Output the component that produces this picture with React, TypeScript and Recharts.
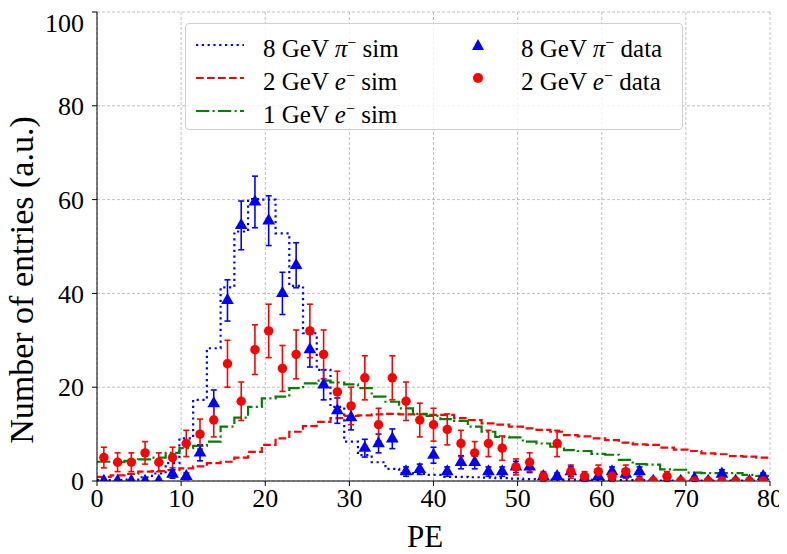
import React from "react";
import {
  ComposedChart,
  Line,
  Scatter,
  ErrorBar,
  XAxis,
  YAxis,
  ZAxis,
  CartesianGrid,
} from "recharts";

const FONT = '"Liberation Serif", "Times New Roman", serif';

// histogram binning: 49 bins over 0..80 PE
const X_MAX = 80;
const N_BINS = 49;
const BIN_W = X_MAX / N_BINS;

const xTicks = [0, 10, 20, 30, 40, 50, 60, 70, 80];
const yTicks = [0, 20, 40, 60, 80, 100];

// simulation histograms (bin contents)
const pionSim = [
  0.2, 0.2, 0.3, 0.8, 1.6, 3.8, 9.1, 17.3, 28.3, 41.3, 53.2, 60.1, 60.0, 52.8,
  41.6, 31.5, 23.7, 15.8, 8.4, 5.5, 4.0, 2.6, 1.7, 1.5, 1.3, 0.9, 0.9, 0.8, 0.7,
  0.6, 0.5, 0.4, 0.4, 0.3, 0.3, 0.3, 0.2, 0.2, 0.2, 0.2, 0.1, 0.1, 0.1, 0.1, 0.1,
  0.1, 0.1, 0.1, 0.1,
];
const e2Sim = [
  0.9, 1.2, 1.5, 2.0, 2.1, 2.3, 2.7, 3.1, 3.8, 4.1, 5.0, 6.2, 7.7, 9.1, 10.5,
  11.7, 12.6, 13.4, 13.9, 14.0, 14.2, 14.3, 14.2, 14.2, 14.1, 14.1, 13.4, 13.0,
  12.3, 12.0, 11.6, 11.2, 10.9, 10.5, 9.8, 9.5, 9.1, 8.7, 8.2, 7.8, 7.7, 7.1,
  6.7, 6.4, 5.9, 5.7, 5.3, 5.2, 5.0,
];
const e1Sim = [
  4.1, 4.0, 4.3, 4.6, 5.0, 6.0, 7.0, 7.5, 8.4, 11.6, 13.5, 15.8, 17.6, 18.0,
  19.8, 20.8, 21.4, 21.0, 20.6, 19.8, 18.0, 16.9, 15.5, 14.3, 13.9, 13.2, 12.8,
  11.6, 10.5, 9.4, 9.3, 8.4, 8.0, 7.3, 6.6, 6.4, 5.8, 5.6, 4.5, 3.6, 3.5, 2.5,
  2.4, 1.8, 1.7, 1.7, 1.7, 1.3, 1.1,
];

// measured data with errors
const pionData = [
  0, 0, 0, 0, 0, 1.5, 1, 6, 16.5, 38.5, 54.5, 59.5, 55.5, 40, 46, 28, 20.5, 15,
  13.5, 7, 8, 9, 2, 2.5, 5.5, 2, 4, 4, 2, 2, 3, 3, 1, 1, 2, 0.5, 1, 2, 1.5, 2, 0,
  0, 0, 0.5, 0, 1.5, 0, 0, 1,
];
const pionErr = [
  0, 0, 0, 0, 0, 0.9, 0.7, 1.7, 2.9, 4.4, 5.2, 5.5, 5.3, 4.5, 4.8, 3.7, 3.2, 2.7,
  2.6, 1.9, 2.0, 2.1, 1.0, 1.1, 1.7, 1.0, 1.4, 1.4, 1.0, 1.0, 1.2, 1.2, 0.7, 0.7,
  1.0, 0.5, 0.7, 1.0, 0.9, 1.0, 0, 0, 0, 0.5, 0, 0.9, 0, 0, 0.7,
];
const e2Data = [
  5, 4, 4, 6, 4, 5, 8, 10, 13, 25, 17, 28, 32, 24, 27, 32, 27, 19, 16, 22, 12,
  22, 17, 13, 12, 11, 8, 6, 8, 7, 3, 4, 1, 8, 2, 1, 2, 1, 2, 0, 0, 1, 0, 0, 0, 0,
  0, 0, 0,
];
const e2Err = [
  2.2, 2, 2, 2.4, 2, 2.2, 2.8, 3.2, 3.6, 5, 4.1, 5.3, 5.7, 4.9, 5.2, 5.7, 5.2,
  4.4, 4, 4.7, 3.5, 4.7, 4.1, 3.6, 3.5, 3.3, 2.8, 2.4, 2.8, 2.6, 1.7, 2, 1, 2.8,
  1.4, 1, 1.4, 1, 1.4, 0, 0, 1, 0, 0, 0, 0, 0, 0, 0,
];

const toSteps = (vals: number[]) => [
  ...vals.map((v, i) => ({ x: i * BIN_W, v })),
  { x: X_MAX, v: vals[vals.length - 1] },
];
const toPoints = (vals: number[], errs: number[]) =>
  vals.map((y, i) => ({ x: (i + 0.5) * BIN_W, y, e: errs[i] }));

const BLUE = "#0000ff";
const RED = "#ff0000";
const GREEN = "#008000";

const tickStyle = { fill: "#000", fontSize: 26, fontFamily: FONT };

function LineSample({ color, dash }: { color: string; dash: string }) {
  return (
    <svg width={48} height={10} style={{ position: "absolute", left: 10, top: -5 }}>
      <line x1={0} y1={5} x2={48} y2={5} stroke={color} strokeWidth={2.2} strokeDasharray={dash} />
    </svg>
  );
}

function Legend() {
  const row = (top: number) => ({ position: "absolute" as const, left: 0, top, width: "100%" });
  const text = (left: number) => ({
    position: "absolute" as const,
    left,
    top: -17,
    fontSize: 25,
    fontFamily: FONT,
    lineHeight: "30px",
    whiteSpace: "nowrap" as const,
  });
  const sup = { fontSize: 16 };
  return (
    <div
      style={{
        position: "absolute",
        left: 177,
        top: 15,
        width: 498,
        height: 107,
        border: "1px solid #d0d0d0",
        borderRadius: 4,
        background: "rgba(255,255,255,0.8)",
        boxSizing: "border-box",
      }}
    >
      <div style={row(21)}>
        <LineSample color={BLUE} dash="2.2 3.6" />
        <span style={text(77)}>
          8 GeV <i>π</i>
          <sup style={sup}>−</sup> sim
        </span>
        <svg width={14} height={14} style={{ position: "absolute", left: 285, top: -7 }}>
          <polygon points="7,1 13,12 1,12" fill={BLUE} />
        </svg>
        <span style={text(335)}>
          8 GeV <i>π</i>
          <sup style={sup}>−</sup> data
        </span>
      </div>
      <div style={row(54)}>
        <LineSample color={RED} dash="7.7 3.3" />
        <span style={text(77)}>
          2 GeV <i>e</i>
          <sup style={sup}>−</sup> sim
        </span>
        <svg width={14} height={14} style={{ position: "absolute", left: 285, top: -7 }}>
          <circle cx={7} cy={7} r={5} fill={RED} />
        </svg>
        <span style={text(335)}>
          2 GeV <i>e</i>
          <sup style={sup}>−</sup> data
        </span>
      </div>
      <div style={row(87)}>
        <LineSample color={GREEN} dash="13.3 3.3 2.1 3.3" />
        <span style={text(77)}>
          1 GeV <i>e</i>
          <sup style={sup}>−</sup> sim
        </span>
      </div>
    </div>
  );
}

export default function App() {
  return (
    <div style={{ position: "relative", width: 779, height: 546 }}>
      <ComposedChart
        width={779}
        height={546}
        margin={{ top: 4, right: 17, bottom: 0, left: 0 }}
      >
        <CartesianGrid stroke="#b0b0b0" strokeDasharray="3 2" strokeWidth={0.8} />
        <XAxis
          dataKey="x"
          type="number"
          domain={[0, X_MAX]}
          ticks={xTicks}
          height={73}
          tickSize={5}
          tickMargin={3}
          tick={tickStyle}
          stroke="#000"
          allowDataOverflow
        />
        <YAxis
          type="number"
          domain={[0, 100]}
          ticks={yTicks}
          width={89}
          tickSize={5}
          tickMargin={8}
          tick={tickStyle}
          stroke="#000"
          allowDataOverflow
        />
        <XAxis
          xAxisId="top"
          orientation="top"
          type="number"
          domain={[0, X_MAX]}
          height={0}
          tick={false}
          tickLine={false}
          stroke="#000"
        />
        <YAxis
          yAxisId="right"
          orientation="right"
          type="number"
          domain={[0, 100]}
          width={0}
          tick={false}
          tickLine={false}
          stroke="#000"
        />
        <ZAxis range={[70, 70]} />
        <Line
          data={toSteps(pionSim)}
          dataKey="v"
          type="stepAfter"
          stroke={BLUE}
          strokeWidth={2.2}
          strokeDasharray="2.2 3.6"
          dot={false}
          isAnimationActive={false}
        />
        <Line
          data={toSteps(e2Sim)}
          dataKey="v"
          type="stepAfter"
          stroke={RED}
          strokeWidth={2.2}
          strokeDasharray="7.7 3.3"
          dot={false}
          isAnimationActive={false}
        />
        <Line
          data={toSteps(e1Sim)}
          dataKey="v"
          type="stepAfter"
          stroke={GREEN}
          strokeWidth={2.2}
          strokeDasharray="13.3 3.3 2.1 3.3"
          dot={false}
          isAnimationActive={false}
        />
        <Scatter
          data={toPoints(pionData, pionErr)}
          dataKey="y"
          fill={BLUE}
          shape="triangle"
          isAnimationActive={false}
        >
          <ErrorBar dataKey="e" direction="y" width={3} stroke={BLUE} strokeWidth={1.6} />
        </Scatter>
        <Scatter
          data={toPoints(e2Data, e2Err)}
          dataKey="y"
          fill={RED}
          shape="circle"
          isAnimationActive={false}
        >
          <ErrorBar dataKey="e" direction="y" width={3} stroke={RED} strokeWidth={1.6} />
        </Scatter>
      </ComposedChart>
      <Legend />
      <div
        style={{
          position: "absolute",
          left: 425 - 8 - 100,
          width: 200,
          top: 514,
          textAlign: "center",
          fontSize: 31,
          fontFamily: FONT,
          lineHeight: "30px",
        }}
      >
        PE
      </div>
      <div
        style={{
          position: "absolute",
          left: 14 - 200,
          top: 272 - 17,
          width: 400,
          textAlign: "center",
          fontSize: 34,
          fontFamily: FONT,
          lineHeight: "34px",
          transform: "rotate(-90deg)",
          whiteSpace: "nowrap",
        }}
      >
        Number of entries (a.u.)
      </div>
    </div>
  );
}
